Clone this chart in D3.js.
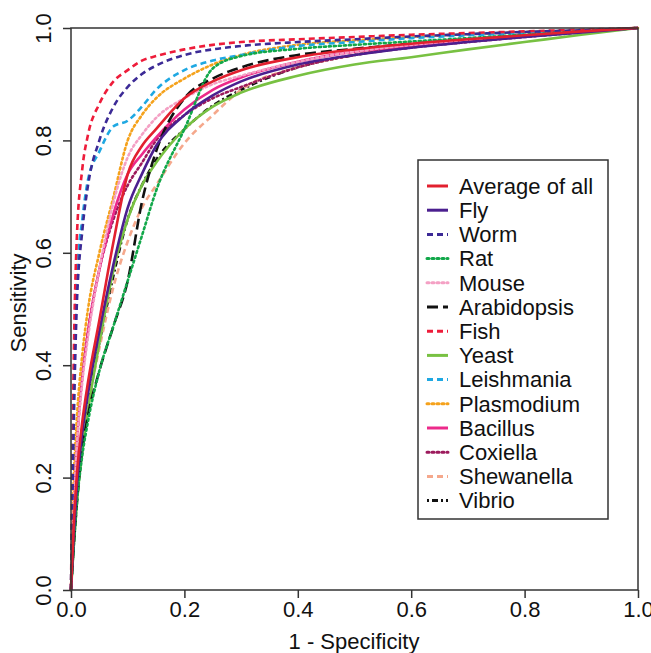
<!DOCTYPE html>
<html><head><meta charset="utf-8">
<script src="https://cdn.jsdelivr.net/npm/d3@7"></script>
<style>body{margin:0;background:#fff}svg{display:block}text{font-family:"Liberation Sans",Arial,sans-serif;fill:#111}</style>
</head><body><div id="c"></div>
<script>
const names = ["Average of all","Fly","Worm","Rat","Mouse","Arabidopsis","Fish","Yeast","Leishmania","Plasmodium","Bacillus","Coxiella","Shewanella","Vibrio"];
const fpr = [0,0.005,0.01,0.02,0.03,0.05,0.075,0.1,0.125,0.15,0.2,0.25,0.3,0.4,0.5,0.6,0.7,0.8,0.9,1.0];
const tprAverage     = [0,0.12,0.2,0.3,0.37,0.48,0.62,0.74,0.79,0.82,0.875,0.905,0.925,0.948,0.962,0.972,0.98,0.987,0.994,1];
const tprFly         = [0,0.1,0.18,0.28,0.35,0.46,0.58,0.68,0.74,0.79,0.845,0.88,0.905,0.935,0.952,0.965,0.975,0.984,0.992,1];
const tprWorm        = [0,0.3,0.5,0.64,0.72,0.8,0.86,0.895,0.918,0.933,0.952,0.962,0.968,0.975,0.98,0.985,0.989,0.993,0.996,1];
const tprRat         = [0,0.08,0.15,0.24,0.3,0.39,0.47,0.55,0.63,0.71,0.82,0.928,0.95,0.963,0.97,0.976,0.982,0.988,0.994,1];
const tprMouse       = [0,0.15,0.25,0.37,0.45,0.57,0.69,0.77,0.81,0.84,0.875,0.9,0.915,0.94,0.958,0.97,0.979,0.987,0.994,1];
const tprArabidopsis = [0,0.08,0.15,0.25,0.31,0.39,0.47,0.55,0.69,0.78,0.875,0.91,0.93,0.952,0.963,0.972,0.98,0.987,0.994,1];
const tprFish        = [0,0.42,0.62,0.75,0.81,0.865,0.905,0.925,0.942,0.95,0.962,0.97,0.975,0.98,0.984,0.988,0.991,0.994,0.997,1];
const tprYeast       = [0,0.08,0.15,0.25,0.32,0.44,0.57,0.66,0.72,0.76,0.82,0.86,0.885,0.915,0.935,0.948,0.962,0.975,0.988,1];
const tprLeishmania  = [0,0.35,0.55,0.66,0.73,0.78,0.825,0.835,0.86,0.89,0.925,0.942,0.952,0.968,0.975,0.982,0.987,0.991,0.995,1];
const tprPlasmodium  = [0,0.2,0.3,0.42,0.5,0.6,0.7,0.8,0.845,0.875,0.91,0.935,0.952,0.97,0.978,0.984,0.989,0.993,0.996,1];
const tprBacillus    = [0,0.15,0.26,0.38,0.46,0.57,0.67,0.74,0.775,0.805,0.855,0.89,0.912,0.94,0.958,0.968,0.977,0.985,0.993,1];
const tprCoxiella    = [0,0.15,0.25,0.38,0.46,0.57,0.66,0.72,0.76,0.8,0.845,0.875,0.895,0.93,0.952,0.965,0.975,0.984,0.992,1];
const tprShewanella  = [0,0.1,0.17,0.27,0.33,0.43,0.54,0.62,0.68,0.72,0.795,0.845,0.89,0.93,0.952,0.966,0.976,0.985,0.993,1];
const tprVibrio      = [0,0.1,0.17,0.27,0.34,0.44,0.56,0.66,0.72,0.765,0.82,0.862,0.89,0.93,0.952,0.966,0.976,0.985,0.993,1];
const xTicks = [0,0.2,0.4,0.6,0.8,1.0];
const yTicks = [0,0.2,0.4,0.6,0.8,1.0];

const seriesTpr = [tprAverage,tprFly,tprWorm,tprRat,tprMouse,tprArabidopsis,tprFish,tprYeast,tprLeishmania,tprPlasmodium,tprBacillus,tprCoxiella,tprShewanella,tprVibrio];
const styles = [
  {c:"#e2202f",d:null},
  {c:"#4b1f8f",d:null},
  {c:"#3c2a96",d:"6,4"},
  {c:"#12a84a",d:"2,3"},
  {c:"#f4a0c4",d:"2,3"},
  {c:"#111111",d:"11,5"},
  {c:"#ee1c3a",d:"6,4"},
  {c:"#78c142",d:null},
  {c:"#1fa8e2",d:"6,4"},
  {c:"#f5a21c",d:"2,3"},
  {c:"#ec2a8a",d:null},
  {c:"#9c1a5c",d:"2,3"},
  {c:"#f5a88c",d:"6,4"},
  {c:"#111111",d:"2,3,6,3"}
];
const FONT="Liberation Sans, Arial, sans-serif";

const W=651,H=653;
const svg=d3.select("#c").append("svg").attr("width",W).attr("height",H);
const x=d3.scaleLinear().domain([0,1]).range([71,638]);
const y=d3.scaleLinear().domain([0,1]).range([590,28]);

const line=d3.line().x(d=>x(d[0])).y(d=>y(d[1])).curve(d3.curveMonotoneX);
const g=svg.append("g");
seriesTpr.map((t,i)=>({i,pts:fpr.map((f,k)=>[f,t[k]])})).reverse().forEach(s=>{
  const st=styles[s.i];
  g.append("path").attr("d",line(s.pts)).attr("fill","none").attr("stroke",st.c)
   .attr("stroke-width",2.6).attr("stroke-dasharray",st.d).attr("stroke-linecap",st.d==="2,3"?"round":"butt");
});

svg.append("rect").attr("x",71).attr("y",28).attr("width",567).attr("height",562).attr("fill","none").attr("stroke","#333").attr("stroke-width",1.5);

const xa=svg.append("g").attr("transform","translate(0,590)").call(d3.axisBottom(x).tickValues(xTicks).tickFormat(d3.format(".1f")).tickSize(8).tickPadding(3));
xa.select(".domain").remove();
xa.selectAll("line").attr("stroke","#333").attr("stroke-width",1.5);
xa.selectAll("text").style("font-size","22px").attr("fill","#111").attr("font-family",FONT);

const ya=svg.append("g").attr("transform","translate(71,0)").call(d3.axisLeft(y).tickValues(yTicks).tickFormat(d3.format(".1f")).tickSize(8));
ya.select(".domain").remove();
ya.selectAll("line").attr("stroke","#333").attr("stroke-width",1.5);
ya.selectAll("text").remove();
ya.selectAll(".tick").append("text").attr("transform","translate(-20,0) rotate(-90)").attr("text-anchor","middle")
  .style("font-size","22px").attr("fill","#111").attr("font-family",FONT).text(d=>d3.format(".1f")(d));

svg.append("text").attr("x",354).attr("y",649).attr("text-anchor","middle").style("font-size","22px").text("1 - Specificity");
svg.append("text").attr("transform","translate(26,303) rotate(-90)").attr("text-anchor","middle").style("font-size","22px").text("Sensitivity");

const lg=svg.append("g");
lg.append("rect").attr("x",418).attr("y",160).attr("width",190).attr("height",359).attr("fill","#fff").attr("stroke","#333").attr("stroke-width",1.5);
names.forEach((n,i)=>{
  const yy=186+i*24.2;
  const st=styles[i];
  lg.append("line").attr("x1",427).attr("x2",448).attr("y1",yy).attr("y2",yy).attr("stroke",st.c).attr("stroke-width",3)
    .attr("stroke-dasharray",st.d).attr("stroke-linecap",st.d==="2,3"?"round":"butt");
  lg.append("text").attr("x",459).attr("y",yy).attr("dy","0.35em").style("font-size","22px").text(n);
});
</script></body></html>
